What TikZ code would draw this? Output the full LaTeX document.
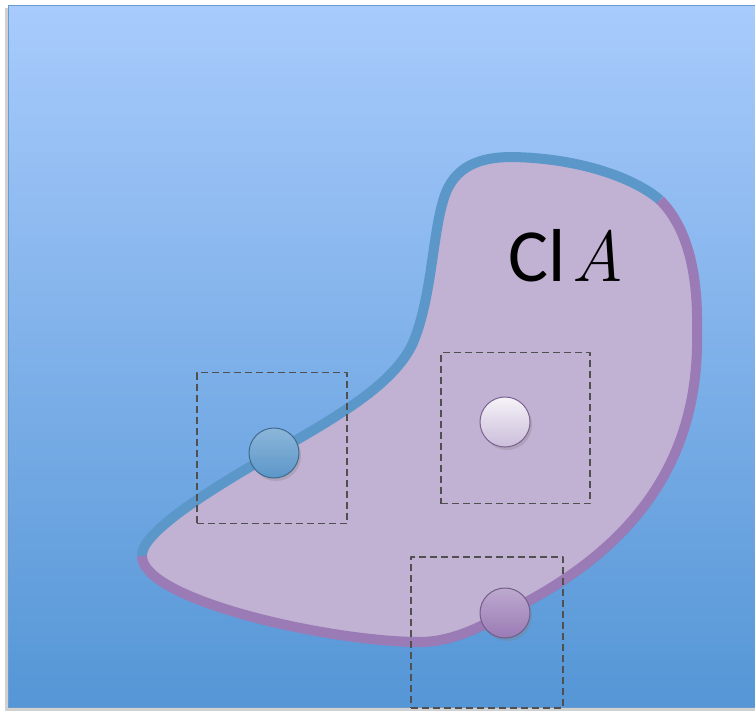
\documentclass[tikz,border=0pt]{standalone}
\usepackage{fontspec}
\newfontfamily\labelfont{Carlito}
\usetikzlibrary{shadows}

\definecolor{skytop}{HTML}{A8CBFC}
\definecolor{skybottom}{HTML}{5596D6}
\definecolor{skyedge}{HTML}{6C9BD0}
\definecolor{blobfill}{HTML}{C1B1D3}
\definecolor{rimblue}{HTML}{5B97C9}
\definecolor{rimpurple}{HTML}{9A7BB5}
\definecolor{boxgray}{HTML}{505050}

% the two halves of the closure's outline
\def\bluerim{(142,556) .. controls (140,535) and (200,495) .. (274,453)
  .. controls (340,415) and (392,385) .. (412,345)
  .. controls (432,300) and (432,235) .. (444,198)
  .. controls (454,166) and (480,157) .. (512,157)
  .. controls (575,158) and (632,176) .. (660,200)}
\def\purplerim{(660,200) .. controls (690,230) and (698,280) .. (697,330)
  .. controls (700,450) and (645,545) .. (505,613)
  .. controls (480,628) and (450,642) .. (420,642)
  .. controls (330,642) and (142,600) .. (142,556)}

\begin{document}
\begin{tikzpicture}[
    x=1pt, y=-1pt,
    line join=round,
    window/.style = {draw=boxgray, line width=1.7pt, dash pattern=on 7pt off 4pt,
                     inner sep=0pt, minimum width=150pt, minimum height=151pt},
    dot/.style = {circle, minimum size=50pt, inner sep=0pt, line width=1pt,
                  drop shadow={opacity=0.3, shadow xshift=2pt, shadow yshift=-3pt}},
    rim/.style = {line width=10pt, line cap=butt}
  ]
  \useasboundingbox (0,0) rectangle (755,712);
  \fill[white] (0,0) rectangle (755,712);

  % backdrop
  \fill[black!18] (5,8) rectangle (755,711);
  \shade[top color=skytop, bottom color=skybottom, draw=skyedge, line width=0.8pt]
    (8,5) rectangle (755,707);

  % the set with its boundary
  \fill[black, opacity=0.18, shift={(3,4)}] \bluerim -- \purplerim -- cycle;
  \fill[blobfill] \bluerim -- \purplerim -- cycle;
  \draw[rim, draw=rimblue] \bluerim;
  \draw[rim, draw=rimpurple] \purplerim;

  % neighbourhoods
  \node[window] (nbhdleft) at (272,448) {};
  \node[window, minimum width=149pt] (nbhdmid) at (515.5,428) {};
  \node[window, minimum width=152pt] (nbhdlow) at (487,632.5) {};

  % points
  \node[dot, draw=rimblue!70!black, top color=rimblue!70!white, bottom color=rimblue]
    (ptleft) at (274,453) {};
  \node[dot, draw=rimpurple!80!black, top color=white!85!blobfill, bottom color=blobfill!85!white]
    (ptmid) at (505,422) {};
  \node[dot, draw=rimpurple!75!black, top color=rimpurple!65!white, bottom color=rimpurple]
    (ptlow) at (505,613) {};

  \node[anchor=base west, inner sep=0pt, font=\labelfont\fontsize{75}{75}\selectfont]
    (label) at (508,281) {Cl\hspace{6pt}{\rmfamily\itshape\fontsize{72}{72}\selectfont A}};
\end{tikzpicture}
\end{document}
